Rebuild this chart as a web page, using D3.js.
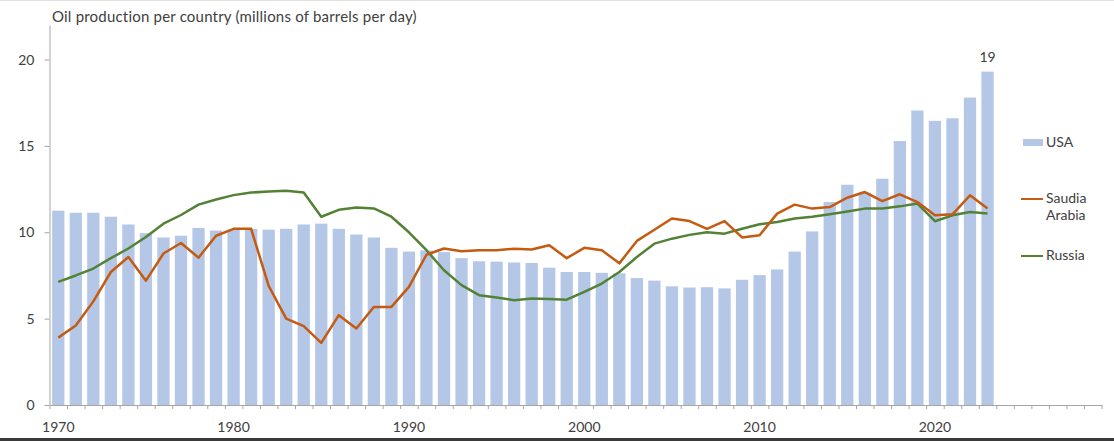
<!DOCTYPE html>
<html>
<head>
<meta charset="utf-8">
<script src="https://cdn.jsdelivr.net/npm/d3@7"></script>
<style>
  body { margin: 0; background: #fff; }
  svg { display: block; font-family: Lato, "Open Sans", sans-serif; }
</style>
</head>
<body>
<div id="chart"></div>
<script>
// >-----------------< Data >-------------------<
const years = [
  1970, 1971, 1972, 1973, 1974, 1975, 1976, 1977, 1978, 1979,
  1980, 1981, 1982, 1983, 1984, 1985, 1986, 1987, 1988, 1989,
  1990, 1991, 1992, 1993, 1994, 1995, 1996, 1997, 1998, 1999,
  2000, 2001, 2002, 2003, 2004, 2005, 2006, 2007, 2008, 2009,
  2010, 2011, 2012, 2013, 2014, 2015, 2016, 2017, 2018, 2019,
  2020, 2021, 2022, 2023
];
// empty slots the axis keeps after the last year
const emptyYears = [2024, 2025, 2026, 2027, 2028, 2029];

const usa = [
  11.25, 11.13, 11.13, 10.9, 10.45, 9.95, 9.7, 9.8, 10.25, 10.1,
  10.15, 10.2, 10.15, 10.2, 10.45, 10.5, 10.2, 9.87, 9.7, 9.1,
  8.88, 8.95, 8.85, 8.5, 8.32, 8.3, 8.25, 8.22, 7.95, 7.7,
  7.7, 7.65, 7.62, 7.35, 7.2, 6.87, 6.8, 6.82, 6.75, 7.25,
  7.52, 7.85, 8.88, 10.05, 11.75, 12.75, 12.3, 13.1, 15.28, 17.05,
  16.45, 16.6, 17.8, 19.3
];
const saudi = [
  3.9, 4.6, 6.0, 7.7, 8.57, 7.2, 8.77, 9.38, 8.53, 9.8,
  10.2, 10.2, 6.9, 5.0, 4.57, 3.6, 5.2, 4.43, 5.67, 5.68,
  6.84, 8.7, 9.06, 8.9, 8.96, 8.96, 9.05, 9.0, 9.25, 8.5,
  9.1, 8.96, 8.2, 9.5, 10.15, 10.8, 10.65, 10.2, 10.65, 9.7,
  9.83, 11.08, 11.6, 11.37, 11.46, 12.0, 12.33, 11.8, 12.2, 11.75,
  10.98, 11.04, 12.14, 11.37
];
const russia = [
  7.13, 7.5, 7.9, 8.5, 9.06, 9.73, 10.5, 11.0, 11.6, 11.9,
  12.15, 12.3, 12.36, 12.4, 12.3, 10.9, 11.3, 11.44, 11.38, 10.9,
  10.0, 8.96, 7.8, 6.94, 6.36, 6.22, 6.07, 6.16, 6.13, 6.1,
  6.55, 7.03, 7.7, 8.57, 9.34, 9.63, 9.85, 10.0, 9.92, 10.2,
  10.46, 10.6, 10.8, 10.9, 11.04, 11.2, 11.37, 11.37, 11.5, 11.66,
  10.64, 10.98, 11.17, 11.08
];
const yTicks = [0, 5, 10, 15, 20];
const xLabels = [1970, 1980, 1990, 2000, 2010, 2020];
const title = "Oil production per country (millions of barrels per day)";

// >-----------------< Config >-------------------<
const width = 1114, height = 441;
const colors = { usa: "#b4c7e7", saudi: "#c55a11", russia: "#548235", axis: "#a6a6a6", text: "#404040" };

const svg = d3.select("#chart").append("svg")
  .attr("width", width)
  .attr("height", height);

svg.append("rect").attr("width", width).attr("height", height).attr("fill", "#fff");

// >-----------------< Scales >-------------------<
const allYears = years.concat(emptyYears);
const x = d3.scaleBand()
  .domain(allYears)
  .range([49.5, 1101.5])
  .paddingInner(0.3)
  .paddingOuter(0.15);

const xEdge = d3.scaleLinear()
  .domain([1970, 2030])
  .range([49.5, 1101.5]);

const y = d3.scaleLinear()
  .domain([0, 22])
  .range([405, 25]);

const cx = yr => x(yr) + x.bandwidth() / 2;

// >-----------------< Bars >-------------------<
svg.selectAll(".bar")
  .data(years)
  .enter().append("rect")
  .attr("class", "bar")
  .attr("x", d => x(d))
  .attr("y", (d, i) => y(usa[i]))
  .attr("width", x.bandwidth())
  .attr("height", (d, i) => y(0) - y(usa[i]))
  .attr("fill", colors.usa);

// last value label
svg.append("text")
  .attr("x", cx(years[years.length - 1]))
  .attr("y", y(usa[usa.length - 1]) - 10)
  .attr("text-anchor", "middle")
  .attr("font-size", 14)
  .attr("fill", colors.text)
  .text(Math.round(usa[usa.length - 1]));

// >-----------------< Axes >-------------------<
const yAxis = svg.append("g")
  .attr("transform", `translate(${49.5},0)`)
  .call(d3.axisLeft(y).tickValues(yTicks).tickSize(5).tickPadding(10).tickSizeOuter(0));
yAxis.select(".domain").attr("stroke", colors.axis);
yAxis.selectAll(".tick line").attr("stroke", colors.axis);
yAxis.selectAll("text").attr("font-size", 14).attr("fill", colors.text).attr("font-family", "Lato, sans-serif");

const xTickAxis = svg.append("g")
  .attr("transform", `translate(0,${y(0)})`)
  .call(d3.axisBottom(xEdge).tickValues(d3.range(1970, 2031)).tickFormat("").tickSize(4).tickSizeOuter(0));
xTickAxis.select(".domain").attr("stroke", colors.axis);
xTickAxis.selectAll(".tick line").attr("stroke", colors.axis);

const xLabelAxis = svg.append("g")
  .attr("transform", `translate(0,${y(0)})`)
  .call(d3.axisBottom(x).tickValues(xLabels).tickSize(0).tickPadding(17));
xLabelAxis.select(".domain").remove();
xLabelAxis.selectAll("text").attr("font-size", 14).attr("fill", colors.text).attr("font-family", "Lato, sans-serif");

// >-----------------< Lines >-------------------<
const line = d3.line()
  .x((d, i) => cx(years[i]))
  .y(d => y(d));

svg.append("path")
  .datum(russia)
  .attr("d", line)
  .attr("fill", "none")
  .attr("stroke", colors.russia)
  .attr("stroke-width", 2.5)
  .attr("stroke-linejoin", "round");

svg.append("path")
  .datum(saudi)
  .attr("d", line)
  .attr("fill", "none")
  .attr("stroke", colors.saudi)
  .attr("stroke-width", 2.5)
  .attr("stroke-linejoin", "round");

// >-----------------< Title >-------------------<
svg.append("text")
  .attr("x", 52)
  .attr("y", 22)
  .attr("font-size", 15)
  .attr("letter-spacing", 0.2)
  .attr("fill", colors.text)
  .text(title);

// >-----------------< Legend >-------------------<
const legend = svg.append("g").attr("font-size", 14).attr("fill", colors.text);

legend.append("rect")
  .attr("x", 1023).attr("y", 139)
  .attr("width", 20).attr("height", 7)
  .attr("fill", colors.usa);
legend.append("text").attr("x", 1046).attr("y", 147).text("USA");

legend.append("line")
  .attr("x1", 1021).attr("x2", 1043)
  .attr("y1", 199).attr("y2", 199)
  .attr("stroke", colors.saudi).attr("stroke-width", 2);
legend.append("text").attr("x", 1046).attr("y", 203).text("Saudia");
legend.append("text").attr("x", 1046).attr("y", 220).text("Arabia");

legend.append("line")
  .attr("x1", 1021).attr("x2", 1043)
  .attr("y1", 256).attr("y2", 256)
  .attr("stroke", colors.russia).attr("stroke-width", 2);
legend.append("text").attr("x", 1046).attr("y", 260).text("Russia");

// frame edges
svg.append("line").attr("x1", 0).attr("x2", width).attr("y1", 0.5).attr("y2", 0.5)
  .attr("stroke", "#e0e0e0");
svg.append("rect").attr("x", 0).attr("y", 438).attr("width", width).attr("height", 3)
  .attr("fill", "#3a3a3a");
</script>
</body>
</html>
